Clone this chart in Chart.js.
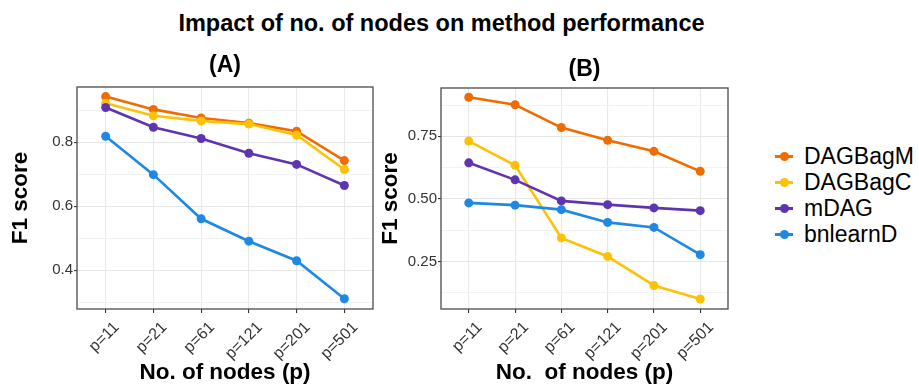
<!DOCTYPE html>
<html>
<head>
<meta charset="utf-8">
<script src="https://cdn.jsdelivr.net/npm/chart.js@4.4.1/dist/chart.umd.min.js"></script>
<style>
  body { margin: 0; background: #fff; font-family: "Liberation Sans", Arial, sans-serif; }
  #wrap { position: relative; width: 919px; height: 384px; overflow: hidden; }
  #mainTitle { position: absolute; left: 0; top: 12px; width: 883px; text-align: center;
               font-weight: bold; font-size: 23.5px; line-height: 23px; color: #000; }
  #boxA { position: absolute; left: 0; top: 0; width: 385px; height: 384px; }
  #boxB { position: absolute; left: 380px; top: 0; width: 360px; height: 384px; }
  #legend { position: absolute; left: 775px; top: 143px; }
  .item { height: 26px; display: flex; align-items: center; font-size: 23px; color: #000; }
  .key { position: relative; width: 18px; height: 26px; margin-right: 11px; }
  .key .ln { position: absolute; left: 0; top: 11.5px; width: 18px; height: 3px; }
  .key .dot { position: absolute; left: 4.5px; top: 8.5px; width: 9px; height: 9px; border-radius: 50%; }
</style>
</head>
<body>
<div id="wrap">
  <div id="mainTitle">Impact of no. of nodes on method performance</div>
  <div id="boxA"><canvas id="chartA"></canvas></div>
  <div id="boxB"><canvas id="chartB"></canvas></div>
  <div id="legend"></div>
</div>
<script>
// ---- data ----
const nodeLabels = ['p=11', 'p=21', 'p=61', 'p=121', 'p=201', 'p=501'];
const seriesNames = ['DAGBagM', 'DAGBagC', 'mDAG', 'bnlearnD'];
const seriesColors = ['#EF6C00', '#FFC107', '#5E35B1', '#1E88E5'];

// panel (A)
const a_DAGBagM  = [0.943, 0.903, 0.876, 0.860, 0.835, 0.743];
const a_DAGBagC  = [0.922, 0.883, 0.867, 0.857, 0.823, 0.715];
const a_mDAG     = [0.909, 0.847, 0.812, 0.766, 0.731, 0.665];
const a_bnlearnD = [0.819, 0.699, 0.561, 0.491, 0.430, 0.311];

// panel (B)
const b_DAGBagM  = [0.906, 0.876, 0.785, 0.734, 0.690, 0.610];
const b_DAGBagC  = [0.731, 0.634, 0.344, 0.270, 0.154, 0.100];
const b_mDAG     = [0.644, 0.576, 0.492, 0.477, 0.464, 0.453];
const b_bnlearnD = [0.484, 0.475, 0.457, 0.406, 0.386, 0.277];

// y grid values (major ones get a label)
const a_yGrid  = [0.3, 0.4, 0.5, 0.6, 0.7, 0.8, 0.9];
const a_yMajor = [0.4, 0.6, 0.8];
const b_yGrid  = [0.125, 0.25, 0.375, 0.5, 0.625, 0.75, 0.875];
const b_yMajor = [0.25, 0.5, 0.75];

const FONT = '"Liberation Sans", Arial, sans-serif';

// frame around the plot panel, like theme_bw
const panelBorder = {
  id: 'panelBorder',
  afterDraw(chart) {
    const { ctx, chartArea: a } = chart;
    ctx.save();
    ctx.strokeStyle = '#4a4a4a';
    ctx.lineWidth = 1.3;
    ctx.strokeRect(a.left, a.top, a.right - a.left, a.bottom - a.top);
    ctx.restore();
  }
};

function isMajor(v, majors) {
  return majors.some(m => Math.abs(m - v) < 1e-6);
}

function makeDatasets(seriesVals) {
  return seriesVals.map((vals, i) => ({
    label: seriesNames[i],
    data: vals.map((v, k) => ({ x: k, y: v })),
    borderColor: seriesColors[i],
    backgroundColor: seriesColors[i],
    borderWidth: 2.6,
    pointRadius: 4.5,
    pointBorderWidth: 0,
    tension: 0,
    order: seriesVals.length - 1 - i   // later series drawn on top, as in ggplot
  }));
}

function makeChart(id, cfg) {
  return new Chart(document.getElementById(id), {
    type: 'line',
    data: { datasets: makeDatasets(cfg.series) },
    plugins: [panelBorder],
    options: {
      responsive: true,
      maintainAspectRatio: false,
      animation: false,
      layout: { padding: { left: 0, right: cfg.padRight, top: cfg.padTop, bottom: 0 } },
      plugins: {
        legend: { display: false },
        tooltip: { enabled: false },
        title: {
          display: true,
          text: cfg.title,
          fullSize: false,
          color: '#000',
          font: { family: FONT, size: 23, weight: 'bold', lineHeight: 1 },
          padding: { top: 0, bottom: cfg.titleGap }
        }
      },
      scales: {
        x: {
          type: 'linear',
          min: -0.6,
          max: 5.6,
          afterBuildTicks: s => { s.ticks = nodeLabels.map((_, i) => ({ value: i })); },
          afterFit: s => { s.height = 75; },
          border: { display: false },
          grid: { color: '#e8e8e8', lineWidth: 1.1, tickLength: 4, tickColor: '#333', tickWidth: 1.1 },
          ticks: {
            autoSkip: false,
            minRotation: 45,
            maxRotation: 45,
            labelOffset: 11,
            padding: 5,
            color: '#333',
            font: { family: FONT, size: 16 },
            callback: v => nodeLabels[v]
          },
          title: {
            display: true,
            text: cfg.xTitle,
            color: '#000',
            font: { family: FONT, size: 22.5, weight: 'bold', lineHeight: 1 },
            padding: { top: 0, bottom: 0 }
          }
        },
        y: {
          min: cfg.yMin,
          max: cfg.yMax,
          afterBuildTicks: s => { s.ticks = cfg.yGrid.map(v => ({ value: v })); },
          afterFit: s => { s.width = cfg.yWidth; },
          border: { display: false },
          grid: {
            color: c => isMajor(c.tick.value, cfg.yMajor) ? '#e6e6e6' : '#efefef',
            lineWidth: c => isMajor(c.tick.value, cfg.yMajor) ? 1.1 : 0.8,
            tickLength: 3,
            tickColor: c => isMajor(c.tick.value, cfg.yMajor) ? '#333' : 'rgba(0,0,0,0)',
            tickWidth: 1.1
          },
          ticks: {
            autoSkip: false,
            padding: 1,
            color: '#333',
            font: { family: FONT, size: 15 },
            callback: v => isMajor(v, cfg.yMajor) ? cfg.fmt(v) : ''
          },
          title: {
            display: true,
            text: 'F1 score',
            color: '#000',
            font: { family: FONT, size: 22.5, weight: 'bold', lineHeight: 1 },
            padding: { top: cfg.yTitlePad, bottom: 0 }
          }
        }
      }
    }
  });
}

makeChart('chartA', {
  title: '(A)',
  xTitle: 'No. of nodes (p)',
  series: [a_DAGBagM, a_DAGBagC, a_mDAG, a_bnlearnD],
  yMin: 0.279, yMax: 0.973,
  yGrid: a_yGrid, yMajor: a_yMajor,
  fmt: v => v.toFixed(1),
  yWidth: 77, yTitlePad: 10,
  padTop: 54, titleGap: 10, padRight: 12
});

makeChart('chartB', {
  title: '(B)',
  xTitle: 'No.  of nodes (p)',
  series: [b_DAGBagM, b_DAGBagC, b_mDAG, b_bnlearnD],
  yMin: 0.06, yMax: 0.943,
  yGrid: b_yGrid, yMajor: b_yMajor,
  fmt: v => v.toFixed(2),
  yWidth: 61, yTitlePad: 0,
  padTop: 58, titleGap: 7, padRight: 12
});

// legend (line + dot keys, as in the reference)
const legendEl = document.getElementById('legend');
seriesNames.forEach((name, i) => {
  const row = document.createElement('div');
  row.className = 'item';
  row.innerHTML = '<span class="key"><span class="ln" style="background:' + seriesColors[i] +
    '"></span><span class="dot" style="background:' + seriesColors[i] + '"></span></span>' + name;
  legendEl.appendChild(row);
});
</script>
</body>
</html>
